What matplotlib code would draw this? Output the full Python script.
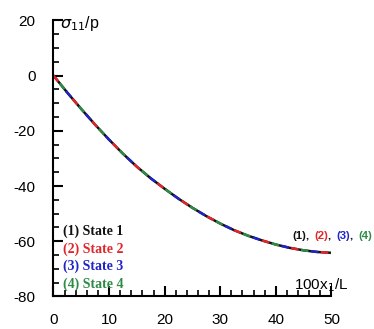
import matplotlib
matplotlib.use("Agg")
import matplotlib.pyplot as plt
from matplotlib.ticker import MultipleLocator

# position along the plate, 100*x1/L
x_pos = [0, 2.5, 5, 7.5, 10, 12.5, 15, 17.5, 20, 22.5, 25, 27.5, 30,
         32.5, 35, 37.5, 40, 42.5, 45, 47.5, 50]
# normalised stress sigma_11/p for each state (curves overlap)
state1 = [0, -6.2, -12.1, -17.8, -23.2, -28.3, -33.0, -37.2, -41.0, -44.6,
          -47.9, -50.9, -53.6, -56.0, -58.0, -59.7, -61.2, -62.4, -63.3, -63.9, -64.2]
state2 = [0, -6.2, -12.1, -17.8, -23.2, -28.3, -33.0, -37.2, -41.0, -44.6,
          -47.9, -50.9, -53.6, -56.0, -58.0, -59.7, -61.2, -62.4, -63.3, -63.9, -64.2]
state3 = [0, -6.2, -12.1, -17.8, -23.2, -28.3, -33.0, -37.2, -41.0, -44.6,
          -47.9, -50.9, -53.6, -56.0, -58.0, -59.7, -61.2, -62.4, -63.3, -63.9, -64.2]
state4 = [0, -6.2, -12.1, -17.8, -23.2, -28.3, -33.0, -37.2, -41.0, -44.6,
          -47.9, -50.9, -53.6, -56.0, -58.0, -59.7, -61.2, -62.4, -63.3, -63.9, -64.2]

labels = ["(1) State 1", "(2) State 2", "(3) State 3", "(4) State 4"]
curve_tags = ["(1)", "(2)", "(3)", "(4)"]
colors = ["#111111", "#e0262b", "#1f24c8", "#2e8b45"]

plt.rcParams["font.family"] = ["Liberation Sans", "DejaVu Sans"]
plt.rcParams["axes.unicode_minus"] = False

fig = plt.figure(figsize=(3.74, 3.29), dpi=100)
ax = fig.add_axes([0.143, 0.099, 0.743, 0.839])

ax.plot(x_pos, state1, color=colors[0], lw=1.8)
ax.plot(x_pos, state2, color=colors[1], lw=1.8, linestyle=(0, (3, 9)))
ax.plot(x_pos, state3, color=colors[2], lw=1.8, linestyle=(4, (3, 9)))
ax.plot(x_pos, state4, color=colors[3], lw=1.8, linestyle=(8, (3, 9)))

ax.set_xlim(0, 50)
ax.set_ylim(-80, 20)
ax.xaxis.set_major_locator(MultipleLocator(10))
ax.xaxis.set_minor_locator(MultipleLocator(2))
ax.yaxis.set_major_locator(MultipleLocator(20))
ax.yaxis.set_minor_locator(MultipleLocator(5))

for side in ("top", "right"):
    ax.spines[side].set_visible(False)
for side in ("left", "bottom"):
    ax.spines[side].set_linewidth(1.5)

ax.tick_params(which="major", direction="in", length=7, width=1.5, labelsize=11)
ax.tick_params(which="minor", direction="in", length=4, width=1.2)
ax.tick_params(axis="y", which="major", pad=13)
ax.tick_params(axis="x", which="major", pad=12)

ax.text(1.1, 18.8, r"$\sigma_{11}$/p", fontsize=11.5, va="center", ha="left")
ax.text(43.3, -76.0, r"100x$_1$/L", fontsize=11, va="center", ha="left")

for i, (lab, col) in enumerate(zip(labels, colors)):
    ax.text(1.7, -56.4 - i * 6.4, lab, color=col, fontsize=10, fontweight="bold",
            family="Liberation Serif", va="center", ha="left")

# "(1), (2), (3), (4)" tag next to the curves, placed in figure pixels
for i, (tag, col) in enumerate(zip(curve_tags, colors)):
    x0 = 292 + i * 22
    fig.text(x0, 329 - 236, tag, color=col, fontsize=8.2, fontweight="bold",
             va="center", ha="left", transform=None)
    if i < len(curve_tags) - 1:
        fig.text(x0 + 13.5, 329 - 236, ",", color="#111111", fontsize=8.2,
                 fontweight="bold", va="center", ha="left", transform=None)

fig.savefig("out.png", dpi=100)
